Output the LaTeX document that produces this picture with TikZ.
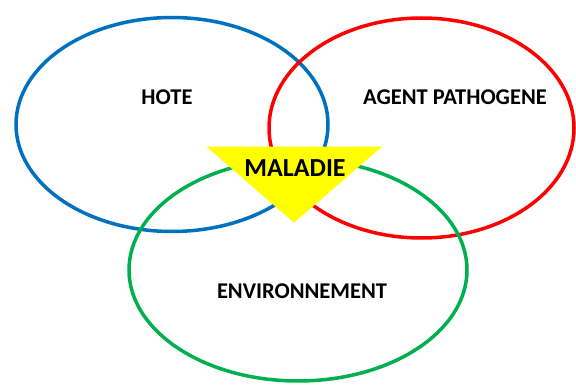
\documentclass[tikz,border=0pt]{standalone}
\usepackage{fontspec}
\setmainfont{Carlito}
\usetikzlibrary{shapes.geometric}
\definecolor{hoteblue}{RGB}{0,112,192}
\definecolor{agentred}{RGB}{255,0,0}
\definecolor{envgreen}{RGB}{0,176,80}
\definecolor{maladieyellow}{RGB}{255,255,0}
\begin{document}
\begin{tikzpicture}[
    x=1pt,y=-1pt,
    ring/.style={ellipse,draw=#1,line width=3.5pt,inner sep=0pt},
    lbl/.style={font=\fontsize{22.5}{26}\selectfont\bfseries,inner sep=0pt},
    big/.style={font=\fontsize{26}{30}\selectfont\bfseries,inner sep=0pt}
]
    \useasboundingbox (0,0) rectangle (576,385);
    \node[ring=hoteblue,minimum width=312pt,minimum height=214pt] (hote) at (172,124.5) {};
    \node[ring=agentred,minimum width=305pt,minimum height=220pt] (agent) at (421.5,128) {};
    \node[ring=envgreen,minimum width=338pt,minimum height=222pt] (env) at (298,270) {};
    % triangle au centre
    \coordinate (tl) at (206.5,146.7);
    \coordinate (tr) at (382,146.7);
    \coordinate (tb) at (294,222.7);
    \fill[maladieyellow] (tl) -- (tr) -- (tb) -- cycle;
    \node[lbl] (hotetxt) at (167,97) {HOTE};
    \node[lbl] (agenttxt) at (455,97) {AGENT PATHOGENE};
    \node[lbl] (envtxt) at (302,291) {ENVIRONNEMENT};
    \node[big] (maladie) at (295,168) {MALADIE};
\end{tikzpicture}
\end{document}
